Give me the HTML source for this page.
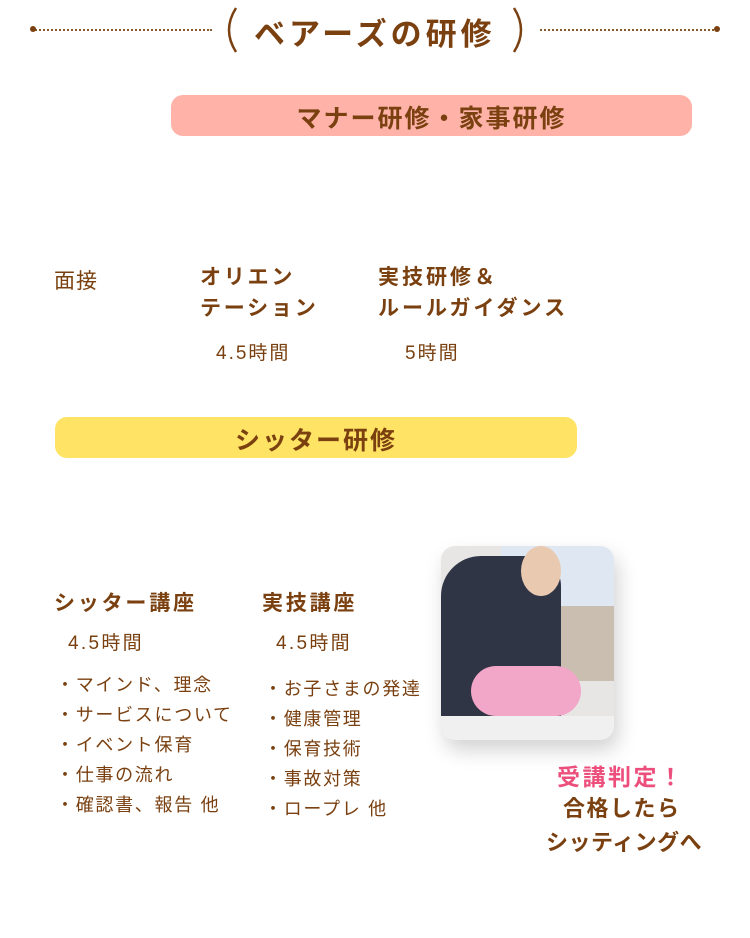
<!DOCTYPE html>
<html><head><meta charset="utf-8"><style>
body{margin:0;width:750px;height:938px;background:#fff;position:relative;overflow:hidden;font-family:"Liberation Sans","Noto Sans CJK JP",sans-serif;color:#7a4010}
.a{position:absolute;white-space:nowrap}
.b{font-weight:bold}
.dots{position:absolute;top:29px;height:0;border-top:2px dotted #8a5a2a}
</style></head><body>
<div class="dots" style="left:32px;width:180px"></div>
<div class="dots" style="left:540px;width:178px"></div>
<div class="a" style="left:30px;top:26px;width:6px;height:6px;border-radius:50%;background:#7a4010"></div>
<div class="a" style="left:714px;top:26px;width:6px;height:6px;border-radius:50%;background:#7a4010"></div>
<svg class="a" style="left:218px;top:6px" width="22" height="48"><path d="M18 2 Q4 24 18 46" stroke="#7a4010" stroke-width="2.5" fill="none"/></svg>
<svg class="a" style="left:510px;top:6px" width="22" height="48"><path d="M4 2 Q18 24 4 46" stroke="#7a4010" stroke-width="2.5" fill="none"/></svg>
<div class="a b" style="left:254px;top:9px;font-size:31px;letter-spacing:4px">ベアーズの研修</div>
<div class="a" style="left:171px;top:95px;width:521px;height:41px;background:#ffb3a8;border-radius:12px"></div>
<div class="a b" style="left:171px;top:99px;width:521px;text-align:center;font-size:25px;letter-spacing:2px">マナー研修・家事研修</div>
<div class="a" style="left:54px;top:265px;font-size:21px;letter-spacing:1px">面接</div>
<div class="a b" style="left:200px;top:262px;font-size:21px;line-height:31px;letter-spacing:2.8px">オリエン<br>テーション</div>
<div class="a" style="left:216px;top:338px;font-size:19px;letter-spacing:2px">4.5時間</div>
<div class="a b" style="left:378px;top:262px;font-size:21px;line-height:31px;letter-spacing:3px">実技研修＆<br>ルールガイダンス</div>
<div class="a" style="left:405px;top:338px;font-size:19px;letter-spacing:2px">5時間</div>
<div class="a" style="left:55px;top:417px;width:522px;height:41px;background:#ffe364;border-radius:12px"></div>
<div class="a b" style="left:55px;top:421px;width:522px;text-align:center;font-size:25px;letter-spacing:2px">シッター研修</div>
<div class="a b" style="left:54px;top:587px;font-size:21px;letter-spacing:2.8px">シッター講座</div>
<div class="a" style="left:68px;top:628px;font-size:19px;letter-spacing:2.3px">4.5時間</div>
<div class="a" style="left:56px;top:670px;font-size:18px;line-height:30px;letter-spacing:1.7px">・マインド、理念<br>・サービスについて<br>・イベント保育<br>・仕事の流れ<br>・確認書、報告 他</div>
<div class="a b" style="left:262px;top:587px;font-size:21px;letter-spacing:2.8px">実技講座</div>
<div class="a" style="left:276px;top:628px;font-size:19px;letter-spacing:2.3px">4.5時間</div>
<div class="a" style="left:264px;top:674px;font-size:18px;line-height:30px;letter-spacing:1.7px">・お子さまの発達<br>・健康管理<br>・保育技術<br>・事故対策<br>・ロープレ 他</div>
<div class="a" style="left:441px;top:546px;width:173px;height:194px;border-radius:14px;overflow:hidden;box-shadow:4px 10px 20px rgba(0,0,0,.18);background:#e8e6e4">
 <div class="a" style="left:60px;top:0;width:113px;height:60px;background:#dfe8f2"></div>
 <div class="a" style="left:100px;top:60px;width:73px;height:75px;background:#c9beb0"></div>
 <div class="a" style="left:0;top:10px;width:120px;height:165px;background:#2f3545;border-radius:40px 30px 0 0"></div>
 <div class="a" style="left:80px;top:0;width:40px;height:50px;background:#e9c9b0;border-radius:50%"></div>
 <div class="a" style="left:30px;top:120px;width:110px;height:50px;background:#f2a6c8;border-radius:25px"></div>
 <div class="a" style="left:0;top:170px;width:173px;height:24px;background:#f1f0f0"></div>
</div>
<div class="a b" style="left:557px;top:758px;font-size:23px;color:#ec4f7c;letter-spacing:2.5px">受講判定！</div>
<div class="a b" style="left:563px;top:791px;font-size:22px;letter-spacing:1.5px">合格したら</div>
<div class="a b" style="left:546px;top:825px;font-size:22px;letter-spacing:0.5px">シッティングへ</div>
</body></html>
